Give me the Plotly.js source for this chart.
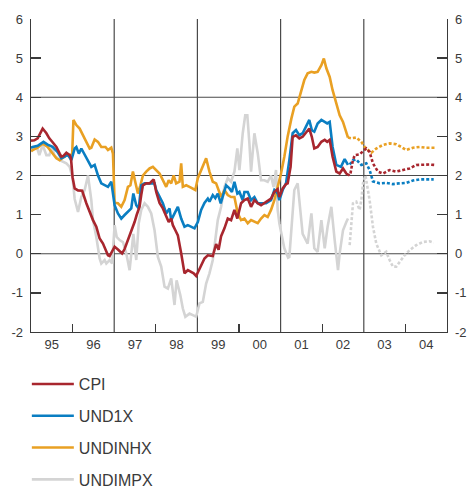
<!DOCTYPE html>
<html>
<head>
<meta charset="utf-8">
<script src="https://cdn.plot.ly/plotly-3.0.1.min.js"></script>
<style>
html,body{margin:0;padding:0;background:#fff;}
#chart{width:467px;height:489px;}
</style>
</head>
<body>
<div id="chart"></div>
<script>
// ---- Data (decimal years, % change) ----
var seriesNames = ['CPI', 'UND1X', 'UNDINHX', 'UNDIMPX'];
var yearTicks = [1995, 1996, 1997, 1998, 1999, 2000, 2001, 2002, 2003, 2004];
var yearLabels = ['95', '96', '97', '98', '99', '00', '01', '02', '03', '04'];

var cpiDates = [1995.00,1995.08,1995.16,1995.25,1995.28,1995.37,1995.44,1995.52,1995.61,1995.69,1995.73,1995.78,1995.85,1995.93,1995.96,
  1996.00,1996.05,1996.13,1996.23,1996.33,1996.41,1996.49,1996.57,1996.65,1996.73,1996.79,1996.85,1996.89,1996.95,
  1997.01,1997.09,1997.19,1997.25,1997.30,1997.37,1997.43,1997.49,1997.54,1997.61,1997.65,1997.69,1997.77,1997.85,1997.91,1997.95,
  1998.01,1998.09,1998.17,1998.25,1998.31,1998.37,1998.41,1998.47,1998.53,1998.61,1998.69,1998.77,1998.85,1998.91,1998.97,
  1999.05,1999.12,1999.17,1999.25,1999.37,1999.45,1999.51,1999.57,1999.65,1999.73,1999.81,1999.89,1999.96,
  2000.05,2000.13,2000.21,2000.29,2000.37,2000.45,2000.53,2000.65,2000.77,2000.85,2000.93,2000.97,
  2001.05,2001.13,2001.17,2001.24,2001.29,2001.37,2001.45,2001.53,2001.62,2001.69,2001.75,2001.81,2001.89,2001.98,
  2002.06,2002.12,2002.18,2002.25,2002.34,2002.42,2002.50,2002.58,2002.66];
var cpiValues = [2.89,2.90,2.95,3.12,3.20,3.08,2.95,2.85,2.73,2.56,2.48,2.50,2.58,2.52,2.45,
  1.95,1.67,1.62,1.61,1.29,1.05,0.86,0.69,0.39,0.26,0.12,-0.04,-0.06,0.05,
  0.18,0.11,0.01,0.12,0.26,0.43,0.65,0.81,0.99,1.20,1.50,1.75,1.80,1.80,1.86,1.90,
  1.58,1.30,1.16,0.94,0.81,0.90,0.73,0.60,0.47,0.01,-0.50,-0.42,-0.46,-0.50,-0.57,
  -0.38,-0.25,-0.12,-0.04,-0.06,0.25,0.10,0.45,0.65,0.90,0.86,1.12,0.90,
  1.29,1.37,1.41,1.20,1.37,1.29,1.24,1.33,1.41,1.58,1.65,1.45,
  1.67,1.78,1.80,2.22,2.99,3.03,2.95,2.99,3.12,3.20,2.99,2.69,2.73,2.86,
  2.91,2.86,2.91,2.48,2.10,2.05,2.18,2.05,2.00];
var cpiFcDates = [2002.68,2002.73,2002.78,2002.90,2002.98,2003.06,2003.14,2003.22,2003.34,2003.46,2003.62,2003.78,2003.94,2004.10,2004.26,2004.42,2004.58,2004.70];
var cpiFcValues = [2.05,2.35,2.52,2.54,2.62,2.69,2.60,2.31,2.10,2.05,2.14,2.10,2.14,2.18,2.27,2.28,2.28,2.27];

var und1xDates = [1995.00,1995.04,1995.16,1995.30,1995.40,1995.52,1995.64,1995.73,1995.81,1995.88,1995.97,
  1996.05,1996.09,1996.15,1996.21,1996.29,1996.37,1996.45,1996.53,1996.61,1996.69,1996.77,1996.85,1996.93,1996.97,
  1997.01,1997.09,1997.17,1997.25,1997.33,1997.41,1997.46,1997.53,1997.59,1997.65,1997.73,1997.81,1997.89,1997.97,
  1998.01,1998.09,1998.17,1998.25,1998.33,1998.37,1998.45,1998.53,1998.61,1998.69,1998.77,1998.85,1998.93,
  1999.01,1999.09,1999.17,1999.25,1999.29,1999.37,1999.43,1999.49,1999.56,1999.61,1999.69,1999.77,1999.83,1999.89,1999.96,
  2000.01,2000.09,2000.13,2000.21,2000.29,2000.37,2000.45,2000.53,2000.65,2000.77,2000.85,2000.93,2000.97,
  2001.05,2001.13,2001.21,2001.29,2001.37,2001.45,2001.53,2001.62,2001.69,2001.75,2001.81,2001.89,2001.98,
  2002.06,2002.12,2002.18,2002.25,2002.34,2002.45,2002.54,2002.62];
var und1xValues = [2.71,2.73,2.76,2.86,2.79,2.73,2.60,2.44,2.48,2.54,2.39,
  2.69,2.73,2.56,2.69,2.52,2.39,2.22,2.27,2.00,1.80,1.75,1.71,1.84,1.58,
  1.24,1.03,0.90,0.99,1.07,1.16,1.54,1.24,1.16,1.75,1.80,1.80,1.80,1.80,
  1.63,1.45,1.29,1.03,1.16,0.86,1.03,1.20,0.90,0.69,0.73,0.69,0.65,
  0.81,1.12,1.30,1.41,1.33,1.50,1.42,1.54,1.29,1.45,1.75,1.67,1.58,1.84,1.54,
  1.58,1.37,1.58,1.58,1.37,1.45,1.29,1.29,1.29,1.37,1.63,1.54,1.37,
  1.63,1.80,2.39,3.08,3.16,3.03,3.08,3.25,3.42,3.16,3.12,3.33,3.42,
  3.37,3.33,3.37,2.73,2.27,2.22,2.42,2.27];
var und1xFcDates = [2002.66,2002.74,2002.82,2002.94,2003.06,2003.14,2003.22,2003.38,2003.54,2003.70,2003.86,2004.02,2004.18,2004.34,2004.50,2004.68];
var und1xFcValues = [2.28,2.39,2.41,2.27,2.31,2.14,1.85,1.80,1.81,1.78,1.80,1.81,1.87,1.90,1.90,1.90];

var undinhxDates = [1995.00,1995.04,1995.16,1995.28,1995.40,1995.49,1995.61,1995.69,1995.76,1995.85,1995.93,1995.99,
  1996.02,1996.09,1996.17,1996.25,1996.33,1996.41,1996.45,1996.53,1996.61,1996.69,1996.79,1996.85,1996.93,1996.97,
  1997.01,1997.09,1997.17,1997.25,1997.33,1997.39,1997.45,1997.51,1997.57,1997.63,1997.69,1997.77,1997.85,1997.93,
  1998.01,1998.09,1998.17,1998.25,1998.31,1998.37,1998.43,1998.49,1998.57,1998.61,1998.65,1998.73,1998.81,1998.89,1998.95,
  1999.01,1999.09,1999.21,1999.29,1999.37,1999.45,1999.51,1999.57,1999.65,1999.73,1999.81,1999.89,1999.97,
  2000.05,2000.13,2000.21,2000.29,2000.37,2000.45,2000.53,2000.61,2000.69,2000.77,2000.85,2000.93,
  2001.01,2001.09,2001.17,2001.26,2001.33,2001.41,2001.50,2001.57,2001.65,2001.74,2001.81,2001.89,2001.98,
  2002.04,2002.10,2002.18,2002.25,2002.34,2002.42,2002.50,2002.58,2002.62];
var undinhxValues = [2.62,2.65,2.71,2.82,2.73,2.60,2.44,2.39,2.44,2.52,2.52,2.55,
  3.42,3.29,3.20,3.03,2.82,2.69,2.71,2.92,2.86,2.73,2.73,2.65,2.71,2.56,
  1.30,1.29,1.20,1.37,1.71,1.75,2.10,1.80,1.54,1.75,2.00,2.10,2.18,2.22,
  2.14,2.05,1.88,1.71,1.88,1.80,2.00,1.80,1.84,2.31,1.71,1.75,1.71,1.67,1.63,
  1.93,2.15,2.44,2.10,1.84,1.80,1.63,1.45,1.63,1.50,1.45,1.45,1.03,
  0.86,0.90,0.78,0.86,0.81,0.78,0.90,0.99,0.94,1.12,1.37,1.71,
  2.05,2.48,3.00,3.46,3.76,3.84,4.18,4.44,4.61,4.65,4.63,4.65,4.82,
  4.99,4.74,4.52,4.18,3.84,3.54,3.37,3.12,2.97];
var undinhxFcDates = [2002.62,2002.70,2002.82,2002.94,2003.02,2003.10,2003.18,2003.30,2003.46,2003.62,2003.78,2003.90,2004.02,2004.18,2004.34,2004.50,2004.70];
var undinhxFcValues = [2.97,2.95,2.97,2.86,2.73,2.65,2.58,2.69,2.78,2.82,2.80,2.73,2.65,2.71,2.73,2.71,2.71];

var undimpxDates = [1995.00,1995.04,1995.13,1995.20,1995.28,1995.37,1995.44,1995.51,1995.56,1995.69,1995.85,1995.93,
  1996.00,1996.05,1996.13,1996.21,1996.29,1996.37,1996.45,1996.49,1996.57,1996.65,1996.69,1996.77,1996.81,1996.89,1996.95,
  1997.01,1997.06,1997.13,1997.21,1997.29,1997.37,1997.41,1997.46,1997.53,1997.59,1997.65,1997.73,1997.81,1997.89,1997.97,
  1998.05,1998.13,1998.21,1998.29,1998.37,1998.45,1998.50,1998.59,1998.65,1998.71,1998.81,1998.89,1998.97,
  1999.05,1999.13,1999.21,1999.29,1999.37,1999.41,1999.49,1999.57,1999.65,1999.73,1999.81,1999.89,1999.96,
  2000.01,2000.09,2000.15,2000.20,2000.25,2000.29,2000.37,2000.45,2000.53,2000.61,2000.69,2000.77,2000.83,2000.89,2000.93,2000.97,
  2001.09,2001.18,2001.21,2001.29,2001.33,2001.41,2001.47,2001.53,2001.65,2001.74,2001.81,2001.89,2001.98,
  2002.06,2002.13,2002.22,2002.30,2002.38,2002.42,2002.50,2002.58,2002.62];
var undimpxValues = [2.75,2.65,2.76,2.52,2.78,2.52,2.52,2.73,2.52,2.39,2.31,2.22,
  1.93,1.40,1.07,1.45,1.63,2.00,1.37,0.86,0.43,-0.12,-0.25,-0.16,-0.25,-0.16,-0.25,
  0.73,0.43,0.35,0.30,0.01,-0.42,0.00,0.51,-0.16,0.78,1.12,1.29,1.20,1.03,0.60,
  -0.08,-0.33,-0.84,-0.89,-0.63,-1.31,-0.68,-1.06,-1.40,-1.61,-1.53,-1.57,-1.61,
  -1.27,-1.23,-0.76,-0.50,-0.16,0.20,0.86,1.20,1.71,1.93,1.84,2.10,2.69,
  2.14,3.08,3.54,3.54,2.82,2.10,3.08,2.57,1.88,1.88,1.84,2.00,1.71,2.14,1.12,0.78,
  0.14,-0.10,-0.08,1.00,1.63,1.80,1.20,0.51,0.26,1.03,0.14,0.05,0.86,
  0.14,0.69,1.20,0.35,-0.42,0.01,0.60,0.81,0.90];
var undimpxFcDates = [2002.66,2002.70,2002.74,2002.82,2002.90,2002.94,2002.98,2003.04,2003.14,2003.22,2003.30,2003.42,2003.54,2003.62,2003.70,2003.78,2003.86,2003.98,2004.10,2004.26,2004.42,2004.58,2004.68];
var undimpxFcValues = [0.22,0.86,1.29,1.33,1.12,1.37,1.80,2.00,1.37,0.69,0.26,-0.04,0.05,-0.16,-0.33,-0.33,-0.20,-0.04,0.09,0.22,0.30,0.32,0.28];

var gridYears = [1997, 1999, 2001, 2003];
var gridValues = [0, 2, 4];
var tickYearsInside = [1996, 1998, 2000, 2002, 2004];

// ---- Styling ----
var colors = {CPI: '#a8262e', UND1X: '#0a7ec2', UNDINHX: '#e9a023', UNDIMPX: '#d4d4d4'};
var ranks = {CPI: 1, UND1X: 2, UNDINHX: 3, UNDIMPX: 4};
var lineW = 2.6;
var axisColor = '#3a3a3a';
var gridColor = '#4a4a4a';
var textColor = '#3a3a3a';
var fontFam = 'Liberation Sans, Arial, sans-serif';

function solid(name, x, y, yax) {
  return {x: x, y: y, yaxis: yax || 'y', type: 'scatter', mode: 'lines', name: name, legendgroup: name,
    legendrank: ranks[name], line: {color: colors[name], width: lineW}, hoverinfo: 'skip'};
}
function dotted(name, x, y, yax) {
  return {x: x, y: y, yaxis: yax || 'y', type: 'scatter', mode: 'lines', name: name + ' prognose', legendgroup: name,
    legendrank: ranks[name] + 0.5, showlegend: false,
    line: {color: colors[name], width: lineW, dash: '3px,2px'}, hoverinfo: 'skip'};
}

var traces = [
  solid('UNDIMPX', undimpxDates, undimpxValues), dotted('UNDIMPX', undimpxFcDates, undimpxFcValues),
  solid('UNDINHX', undinhxDates, undinhxValues), dotted('UNDINHX', undinhxFcDates, undinhxFcValues),
  solid('UND1X', und1xDates, und1xValues), dotted('UND1X', und1xFcDates, und1xFcValues),
  solid('CPI', cpiDates, cpiValues, 'y2'), dotted('CPI', cpiFcDates, cpiFcValues, 'y2')
];

var shapes = gridYears.map(function (yr) {
  return {type: 'line', layer: 'below', xref: 'x', yref: 'paper', x0: yr, x1: yr, y0: 0, y1: 1,
    line: {color: gridColor, width: 1.2}};
}).concat(gridValues.map(function (v) {
  return {type: 'line', layer: 'below', xref: 'paper', yref: 'y', x0: 0, x1: 1, y0: v, y1: v,
    line: {color: gridColor, width: 1.2}};
}));

var xRange = [1995, 2005];
var yRange = [-2, 6];
var yTicks = [-2, -1, 0, 1, 2, 3, 4, 5, 6];
var tickFont = {family: fontFam, size: 13, color: textColor};

var yCommon = {
  range: yRange, tickmode: 'array', tickvals: yTicks, ticktext: yTicks.map(String),
  ticks: 'inside', ticklen: 10, tickwidth: 1.3, tickcolor: axisColor,
  showgrid: false, zeroline: false, showline: true, linecolor: axisColor, linewidth: 1.3,
  tickfont: tickFont, ticklabelstandoff: 4, fixedrange: true
};

var layout = {
  width: 467, height: 489,
  margin: {l: 31, r: 20, t: 19, b: 157, autoexpand: false},
  paper_bgcolor: '#ffffff', plot_bgcolor: '#ffffff',
  showlegend: true,
  legend: {
    orientation: 'v', x: -0.010, xanchor: 'left', y: -0.112, yanchor: 'top',
    traceorder: 'grouped', tracegroupgap: 8, itemwidth: 42,
    font: {family: fontFam, size: 16, color: textColor}, bgcolor: 'rgba(0,0,0,0)'
  },
  shapes: shapes,
  xaxis: {
    range: xRange, tickmode: 'array',
    tickvals: yearTicks.map(function (y) { return y + 0.5; }), ticktext: yearLabels,
    ticks: '', showgrid: false, zeroline: false,
    showline: true, linecolor: axisColor, linewidth: 1.3,
    minor: {tickmode: 'array', tickvals: tickYearsInside, ticks: 'inside', ticklen: 8,
      tickwidth: 1.3, tickcolor: axisColor, showgrid: false},
    tickfont: tickFont, ticklabelstandoff: 0, fixedrange: true
  },
  yaxis: Object.assign({}, yCommon, {side: 'left'}),
  yaxis2: Object.assign({}, yCommon, {side: 'right', overlaying: 'y', anchor: 'x'})
};

Plotly.newPlot('chart', traces, layout, {staticPlot: true, displayModeBar: false});
</script>
</body>
</html>
